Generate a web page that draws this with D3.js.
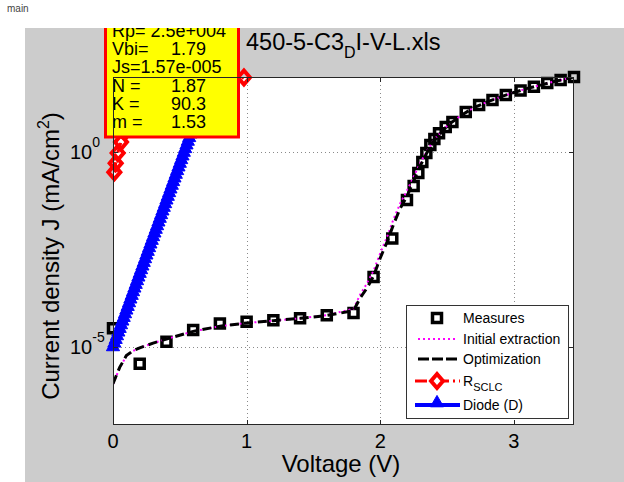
<!DOCTYPE html>
<html>
<head>
<meta charset="utf-8">
<script src="https://d3js.org/d3.v7.min.js"></script>
<style>
  body { margin: 0; background: #fff; }
  text { font-family: "Liberation Sans", Arial, Helvetica, sans-serif; }
</style>
</head>
<body>
<div id="drawArea"></div>
<script>
// measured J-V points (black squares)
var measV = [0, 0.2, 0.4, 0.6, 0.8, 1.0, 1.2, 1.4, 1.6, 1.8, 1.95, 2.09, 2.2, 2.25, 2.285, 2.315, 2.345, 2.375, 2.405, 2.44, 2.49, 2.54, 2.64, 2.74, 2.84, 2.94, 3.05, 3.15, 3.25, 3.35, 3.45];
var measJ = [3.0e-5, 3.7e-6, 1.35e-5, 2.7e-5, 4.0e-5, 4.4e-5, 4.8e-5, 5.4e-5, 6.5e-5, 7.4e-5, 6.2e-4, 6.0e-3, 0.058, 0.132, 0.284, 0.544, 0.93, 1.49, 2.12, 3.0, 4.3, 5.8, 10.4, 15.7, 21.2, 28.4, 37.1, 46.4, 57.6, 68.9, 82.3];

// fitted curves
var fitV = [0, 0.05, 0.1, 0.15, 0.2, 0.3, 0.4, 0.6, 0.8, 1.0, 1.2, 1.4, 1.6, 1.8, 1.85, 1.9, 1.95, 2.0, 2.05, 2.1, 2.15, 2.2, 2.25, 2.3, 2.35, 2.4, 2.5, 2.6, 2.7, 2.8, 2.9, 3.0, 3.1, 3.2, 3.3, 3.45];
var initJ = [1.1e-6, 2.9e-6, 5.8e-6, 7.9e-6, 9.5e-6, 1.25e-5, 1.6e-5, 2.5e-5, 3.4e-5, 4.1e-5, 4.7e-5, 5.4e-5, 6.5e-5, 9.5e-5, 2.2e-4, 4.2e-4, 9.0e-4, 2.5e-3, 6.5e-3, 0.019, 0.048, 0.1, 0.23, 0.52, 1.05, 2.0, 4.6, 8.3, 13.5, 19, 25.5, 33, 42, 51, 63, 82];
var optJ = [1.15e-6, 3.0e-6, 6.0e-6, 8.0e-6, 9.5e-6, 1.25e-5, 1.6e-5, 2.5e-5, 3.4e-5, 4.1e-5, 4.7e-5, 5.4e-5, 6.4e-5, 8.5e-5, 1.8e-4, 3.2e-4, 6.5e-4, 1.9e-3, 4.8e-3, 0.014, 0.036, 0.072, 0.18, 0.44, 0.95, 1.9, 4.6, 8.3, 13.5, 19, 25.5, 33, 42, 51, 63, 82];

// R_SCLC branch
var sclcV = [0.01, 0.02, 0.035, 0.06, 0.1, 0.2, 0.4, 0.6, 0.8, 0.98];
var sclcJ = [0.30, 0.51, 0.93, 1.77, 3.5, 9, 25, 42, 62, 80];

// diode branch
var diodeV = [0, 0.01, 0.02, 0.03, 0.04, 0.05, 0.06, 0.07, 0.08, 0.09, 0.1, 0.11, 0.12, 0.13, 0.14, 0.15, 0.16, 0.17, 0.18, 0.19, 0.2, 0.21, 0.22, 0.23, 0.24, 0.25, 0.26, 0.27, 0.28, 0.29, 0.3, 0.31, 0.32, 0.33, 0.34, 0.35, 0.36, 0.37, 0.38, 0.39, 0.4, 0.41, 0.42, 0.43, 0.44, 0.45, 0.46, 0.47, 0.48, 0.49, 0.5, 0.51, 0.52, 0.53, 0.54, 0.55, 0.56, 0.57, 0.58, 0.59, 0.6];
var diodeJ = [1.0e-5, 1.24e-5, 1.54e-5, 1.91e-5, 2.38e-5, 2.95e-5, 3.66e-5, 4.55e-5, 5.65e-5, 7.01e-5, 8.71e-5, 1.08e-4, 1.34e-4, 1.67e-4, 2.07e-4, 2.57e-4, 3.19e-4, 3.96e-4, 4.92e-4, 6.11e-4, 7.59e-4, 9.42e-4, 1.17e-3, 1.45e-3, 1.80e-3, 2.24e-3, 2.78e-3, 3.45e-3, 4.29e-3, 5.32e-3, 6.61e-3, 8.20e-3, 1.02e-2, 1.26e-2, 1.57e-2, 1.95e-2, 2.42e-2, 3.01e-2, 3.73e-2, 4.63e-2, 5.75e-2, 7.14e-2, 8.87e-2, 0.110, 0.137, 0.170, 0.211, 0.262, 0.325, 0.404, 0.501, 0.622, 0.773, 0.959, 1.19, 1.48, 1.84, 2.28, 2.83, 3.52, 4.37];

var xTicks = [0, 1, 2, 3];
var yTicks = [1e-5, 1e0];
var yTickExp = ["-5", "0"];

var titleMain = "450-5-C3";
var titleSub = "D";
var titleEnd = "I-V-L.xls";

var boxLines = ["Rp= 2.5e+004", "Vbi=", "Js=1.57e-005", "N =", "K =", "m ="];
var boxValues = ["", "1.79", "", "1.87", "90.3", "1.53"];

var legendNames = ["Measures", "Initial extraction", "Optimization", "R", "Diode (D)"];

var W = 624, H = 482;
var pL = 113, pR = 574, pT = 77, pB = 425;

var svg = d3.select("#drawArea").append("svg")
  .attr("width", W)
  .attr("height", H);

svg.append("rect").attr("width", W).attr("height", H).attr("fill", "#fff");

svg.append("text")
  .attr("x", 7).attr("y", 12)
  .attr("font-size", 10)
  .attr("fill", "#444")
  .text("main");

// figure background
svg.append("rect")
  .attr("x", 25).attr("y", 28)
  .attr("width", W - 25).attr("height", H - 28)
  .attr("fill", "#cccccc");

var x = d3.scaleLinear().domain([0, 3.45]).range([pL, pR]);
var y = d3.scaleLog().domain([1e-7, 82.3]).range([pB, pT]);

svg.append("rect")
  .attr("x", pL).attr("y", pT)
  .attr("width", pR - pL).attr("height", pB - pT)
  .attr("fill", "#fff");

var defs = svg.append("defs");
defs.append("clipPath").attr("id", "plotClip")
  .append("rect")
  .attr("x", pL).attr("y", pT)
  .attr("width", pR - pL).attr("height", pB - pT);
defs.append("clipPath").attr("id", "figClip")
  .append("rect")
  .attr("x", 25).attr("y", 28)
  .attr("width", W - 25).attr("height", H - 28);

// grid
var grid = svg.append("g")
  .attr("stroke", "#8a8a8a")
  .attr("stroke-width", 1)
  .attr("stroke-dasharray", "1,3");
grid.selectAll("line.gx")
  .data(xTicks.slice(1))
  .enter().append("line")
  .attr("x1", function(d) { return Math.round(x(d)) + 0.5; })
  .attr("x2", function(d) { return Math.round(x(d)) + 0.5; })
  .attr("y1", pT).attr("y2", pB);
grid.selectAll("line.gy")
  .data(yTicks)
  .enter().append("line")
  .attr("y1", function(d) { return Math.round(y(d)) + 0.5; })
  .attr("y2", function(d) { return Math.round(y(d)) + 0.5; })
  .attr("x1", pL).attr("x2", pR);

function pts(vs, js) {
  return vs.map(function(v, i) { return [v, js[i]]; });
}
var line = d3.line()
  .x(function(d) { return x(d[0]); })
  .y(function(d) { return y(d[1]); });

function inside(d) {
  return d[0] >= 0 && d[0] <= 3.45 && d[1] >= 1e-7 && d[1] <= 82.3;
}

var squarePath = "M-4.5,-4.5L4.5,-4.5L4.5,4.5L-4.5,4.5Z";
var diamondPath = "M0,-7L6,0L0,7L-6,0Z";
var trianglePath = d3.symbol().type(d3.symbolTriangle).size(75)();

// Measures
svg.append("g").selectAll("path")
  .data(pts(measV, measJ).filter(inside))
  .enter().append("path")
  .attr("d", squarePath)
  .attr("transform", function(d) { return "translate(" + x(d[0]) + "," + y(d[1]) + ")"; })
  .attr("fill", "none")
  .attr("stroke", "#000")
  .attr("stroke-width", 3.5);

// Initial extraction
svg.append("path")
  .datum(pts(fitV, initJ))
  .attr("clip-path", "url(#plotClip)")
  .attr("d", line)
  .attr("fill", "none")
  .attr("stroke", "#ff00ff")
  .attr("stroke-width", 2)
  .attr("stroke-dasharray", "2,3");

// Optimization
svg.append("path")
  .datum(pts(fitV, optJ))
  .attr("clip-path", "url(#plotClip)")
  .attr("d", line)
  .attr("fill", "none")
  .attr("stroke", "#000")
  .attr("stroke-width", 3)
  .attr("stroke-dasharray", "9,5");

// R_SCLC
svg.append("path")
  .datum(pts(sclcV, sclcJ))
  .attr("clip-path", "url(#plotClip)")
  .attr("d", line)
  .attr("fill", "none")
  .attr("stroke", "#ff0000")
  .attr("stroke-width", 3)
  .attr("stroke-dasharray", "10,4,2,4");
svg.append("g").selectAll("path")
  .data(pts(sclcV, sclcJ).filter(inside))
  .enter().append("path")
  .attr("d", diamondPath)
  .attr("transform", function(d) { return "translate(" + x(d[0]) + "," + y(d[1]) + ")"; })
  .attr("fill", "none")
  .attr("stroke", "#ff0000")
  .attr("stroke-width", 4);

// Diode
svg.append("path")
  .datum(pts(diodeV, diodeJ))
  .attr("clip-path", "url(#plotClip)")
  .attr("d", line)
  .attr("fill", "none")
  .attr("stroke", "#0000ff")
  .attr("stroke-width", 3);
svg.append("g").selectAll("path")
  .data(pts(diodeV, diodeJ).filter(inside))
  .enter().append("path")
  .attr("d", trianglePath)
  .attr("transform", function(d) { return "translate(" + x(d[0]) + "," + y(d[1]) + ")"; })
  .attr("fill", "#0000ff")
  .attr("stroke", "#0000ff")
  .attr("stroke-width", 1);

// parameter box
var box = svg.append("g").attr("clip-path", "url(#figClip)");
box.append("rect")
  .attr("x", 105.5).attr("y", 8)
  .attr("width", 133).attr("height", 129)
  .attr("fill", "#ffff00")
  .attr("stroke", "#ff0000")
  .attr("stroke-width", 3);
box.selectAll("text.lab")
  .data(boxLines)
  .enter().append("text")
  .attr("x", 112)
  .attr("y", function(d, i) { return 36.7 + i * 18.3; })
  .attr("font-size", 18)
  .attr("fill", "#000")
  .text(function(d) { return d; });
box.selectAll("text.val")
  .data(boxValues)
  .enter().append("text")
  .attr("x", 206)
  .attr("y", function(d, i) { return 36.7 + i * 18.3; })
  .attr("text-anchor", "end")
  .attr("font-size", 18)
  .attr("fill", "#000")
  .text(function(d) { return d; });

// axes frame and ticks
var axisCol = "#262626";
svg.append("rect")
  .attr("x", pL + 0.5).attr("y", pT + 0.5)
  .attr("width", pR - pL - 1).attr("height", pB - pT - 1)
  .attr("fill", "none")
  .attr("stroke", axisCol)
  .attr("stroke-width", 1);
var tk = svg.append("g").attr("stroke", axisCol).attr("stroke-width", 1);
xTicks.forEach(function(t) {
  var px = Math.round(x(t)) + 0.5;
  tk.append("line").attr("x1", px).attr("x2", px).attr("y1", pB).attr("y2", pB - 5);
  tk.append("line").attr("x1", px).attr("x2", px).attr("y1", pT).attr("y2", pT + 5);
});
yTicks.forEach(function(t) {
  var py = Math.round(y(t)) + 0.5;
  tk.append("line").attr("x1", pL).attr("x2", pL + 5).attr("y1", py).attr("y2", py);
  tk.append("line").attr("x1", pR).attr("x2", pR - 5).attr("y1", py).attr("y2", py);
});

// tick labels
svg.selectAll("text.xt")
  .data(xTicks)
  .enter().append("text")
  .attr("x", function(d) { return x(d); })
  .attr("y", 448)
  .attr("text-anchor", "middle")
  .attr("font-size", 20)
  .attr("fill", "#000")
  .text(function(d) { return d; });
yTicks.forEach(function(t, i) {
  var ty = y(t);
  var lab = svg.append("text")
    .attr("x", 70)
    .attr("y", ty + 7)
    .attr("font-size", 20)
    .attr("fill", "#000");
  lab.append("tspan").text("10");
  lab.append("tspan")
    .attr("dy", -12)
    .attr("font-size", 14)
    .text(yTickExp[i]);
});

// axis labels
svg.append("text")
  .attr("x", 341).attr("y", 472)
  .attr("text-anchor", "middle")
  .attr("font-size", 24)
  .attr("fill", "#000")
  .text("Voltage (V)");
var yl = svg.append("text")
  .attr("transform", "translate(59,256) rotate(-90)")
  .attr("text-anchor", "middle")
  .attr("font-size", 24)
  .attr("fill", "#000");
yl.append("tspan").text("Current density J (mA/cm");
yl.append("tspan").attr("dy", -10).attr("font-size", 16).text("2");
yl.append("tspan").attr("dy", 10).text(")");

// title
var tt = svg.append("text")
  .attr("x", 246).attr("y", 50)
  .attr("font-size", 23.5)
  .attr("fill", "#000");
tt.append("tspan").text(titleMain);
tt.append("tspan").attr("dy", 8).attr("font-size", 16).text(titleSub);
tt.append("tspan").attr("dy", -8).text(titleEnd);

// legend
var lg = svg.append("g");
lg.append("rect")
  .attr("x", 406.5).attr("y", 305.5)
  .attr("width", 162).attr("height", 113)
  .attr("fill", "#fff")
  .attr("stroke", "#333")
  .attr("stroke-width", 1);
var rowY = [318, 339, 359, 381, 405];
var lx1 = 418, lx2 = 458, lmx = 437, ltx = 463;

lg.append("path")
  .attr("d", squarePath)
  .attr("transform", "translate(" + lmx + "," + rowY[0] + ")")
  .attr("fill", "none").attr("stroke", "#000").attr("stroke-width", 3.5);
lg.append("line")
  .attr("x1", lx1).attr("x2", lx2).attr("y1", rowY[1]).attr("y2", rowY[1])
  .attr("stroke", "#ff00ff").attr("stroke-width", 2).attr("stroke-dasharray", "2,3");
lg.append("line")
  .attr("x1", lx1).attr("x2", lx2).attr("y1", rowY[2]).attr("y2", rowY[2])
  .attr("stroke", "#000").attr("stroke-width", 3).attr("stroke-dasharray", "11,3");
lg.append("line")
  .attr("x1", lx1 - 3).attr("x2", lx2 + 2).attr("y1", rowY[3]).attr("y2", rowY[3])
  .attr("stroke", "#ff0000").attr("stroke-width", 3).attr("stroke-dasharray", "12,4,2,4");
lg.append("path")
  .attr("d", diamondPath)
  .attr("transform", "translate(" + lmx + "," + rowY[3] + ")")
  .attr("fill", "#fff").attr("stroke", "#ff0000").attr("stroke-width", 4);
lg.append("line")
  .attr("x1", lx1 - 3).attr("x2", lx2 + 2).attr("y1", rowY[4]).attr("y2", rowY[4])
  .attr("stroke", "#0000ff").attr("stroke-width", 4);
lg.append("path")
  .attr("d", trianglePath)
  .attr("transform", "translate(" + lmx + "," + (rowY[4] - 2) + ")")
  .attr("fill", "#0000ff").attr("stroke", "#0000ff").attr("stroke-width", 1);

legendNames.forEach(function(n, i) {
  var t = lg.append("text")
    .attr("x", ltx).attr("y", rowY[i] + 5)
    .attr("font-size", 14)
    .attr("fill", "#000");
  t.append("tspan").text(n);
  if (i == 3) {
    t.append("tspan").attr("dy", 5).attr("font-size", 11).text("SCLC");
  }
});
</script>
</body>
</html>
